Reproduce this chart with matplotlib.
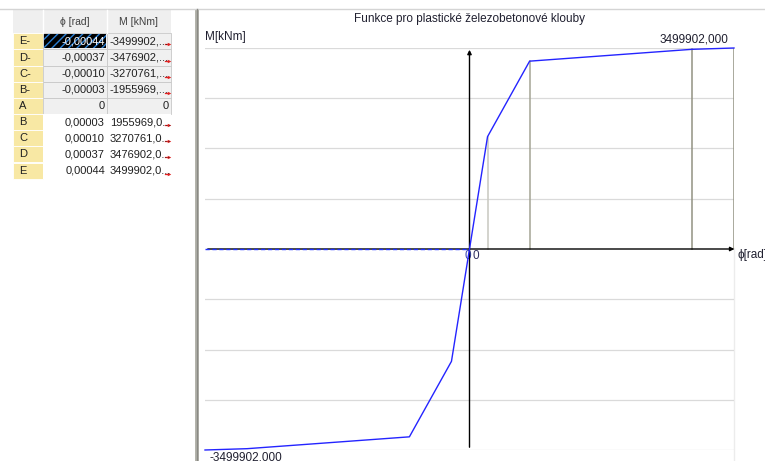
"""Plastic hinge function M(phi) with value table, screenshot style."""

import matplotlib

matplotlib.use("Agg")
import matplotlib.pyplot as plt
from matplotlib.patches import Rectangle

labels = ["E-", "D-", "C-", "B-", "A", "B", "C", "D", "E"]
phi = [-0.00044, -0.00037, -0.00010, -0.00003, 0.0, 0.00003, 0.00010, 0.00037, 0.00044]
moment = [-3499902, -3476902, -3270761, -1955969, 0, 1955969, 3270761, 3476902, 3499902]

title = "Funkce pro plastické železobetonové klouby"
col_headers = ["ϕ [rad]", "M [kNm]"]

W, H = 765, 461
FONT = ["Liberation Sans", "DejaVu Sans"]
plt.rcParams["font.family"] = FONT


def fmt_phi(v):
    if v == 0:
        return "0"
    return f"{v:.5f}".replace(".", ",")


def fmt_m(v):
    if v == 0:
        return "0"
    s = f"{v:.3f}".replace(".", ",")
    return s[:9] + "..."


fig = plt.figure(figsize=(W / 100, H / 100), dpi=100)

# background layer in pixel coordinates (table, frame, loose labels)
bg = fig.add_axes([0, 0, 1, 1], zorder=0)
bg.set_xlim(0, W)
bg.set_ylim(H, 0)
bg.axis("off")

bg.plot([0, W], [9, 9], color="#d4d4d4", lw=1)
bg.add_patch(Rectangle((195.5, 9), 4, H - 9, facecolor="#b4b4ac", edgecolor="none"))
bg.plot([197.5, 197.5], [9, H], color="#8a8a84", lw=1)

# table
x0, x1, x2, x3 = 13, 43, 107, 171
top, head_h, row_h = 10, 23.3, 16.15
bg.add_patch(Rectangle((x0, top), x3 - x0, head_h, facecolor="#efefef", edgecolor="none"))
bg.plot([x1, x1], [top, top + head_h], color="white", lw=1)
bg.plot([x2, x2], [top, top + head_h], color="white", lw=1)
bg.text((x1 + x2) / 2, top + head_h / 2, col_headers[0], ha="center", va="center",
        fontsize=7.5, color="#404040")
bg.text((x2 + x3) / 2, top + head_h / 2, col_headers[1], ha="center", va="center",
        fontsize=7.5, color="#404040")

for i, lab in enumerate(labels):
    y = top + head_h + i * row_h
    cy = y + row_h / 2
    bg.add_patch(Rectangle((x0, y), x1 - x0, row_h, facecolor="#f8e8a4",
                           edgecolor="white", lw=0.6))
    bg.text(x0 + 6, cy, lab, ha="left", va="center", fontsize=8, color="#202020")
    shaded = phi[i] <= 0
    cell_fc = "#f0f0f0" if shaded else "white"
    bg.add_patch(Rectangle((x1, y), x2 - x1, row_h, facecolor=cell_fc,
                           edgecolor="#c8c8c8" if shaded else "none", lw=0.6))
    bg.add_patch(Rectangle((x2, y), x3 - x2, row_h, facecolor=cell_fc,
                           edgecolor="#c8c8c8" if shaded else "none", lw=0.6))
    phi_color = "#202020"
    if i == 0:
        bg.add_patch(Rectangle((x1 + 1, y + 1), x2 - x1 - 2, row_h - 2, facecolor="black",
                               edgecolor="#2a7fd4", hatch="////", lw=0))
        phi_color = "white"
    bg.text(x2 - 2, cy, fmt_phi(phi[i]), ha="right", va="center", fontsize=8,
            color=phi_color)
    if moment[i] == 0:
        bg.text(x3 - 2, cy, "0", ha="right", va="center", fontsize=8, color="#202020")
    else:
        bg.text(x2 + 3, cy, fmt_m(moment[i]), ha="left", va="center", fontsize=8,
                color="#202020")
        # small red edit arrow at the cell's right edge
        bg.plot([165.5, 169], [cy + 3, cy + 3], color="#e02020", lw=0.9)
        bg.plot([169], [cy + 3], marker=">", ms=2.5, color="#e02020", mew=0)

# loose chart labels
bg.text(470, 19, title, ha="center", va="center", fontsize=8.5, color="#202030")
bg.text(205, 37, "M[kNm]", ha="left", va="center", fontsize=8.5, color="#202030")
bg.text(728, 39, f"{max(moment):.3f}".replace(".", ","),
        ha="right", va="center", fontsize=8.5, color="#202030")
bg.text(210, 457, f"{min(moment):.3f}".replace(".", ","), ha="left", va="center",
        fontsize=8.5, color="#202030")
bg.text(738, 255, "ϕ[rad]", ha="left", va="center", fontsize=8.5, color="#202030")
bg.text(468, 256, "0", ha="center", va="center", fontsize=8.5, color="#3848b0")
bg.text(476, 256, "0", ha="center", va="center", fontsize=8.5, color="#303060")
bg.plot([734, 734], [248, H], color="#ececec", lw=1)

# chart
ax = fig.add_axes([205 / W, (H - 450) / H, (734 - 205) / W, (450 - 48) / H], zorder=1)
ax.patch.set_alpha(0)
xmax, ymax = max(phi), max(moment)
ax.set_xlim(-xmax, xmax)
ax.set_ylim(-ymax, ymax)
for s in ax.spines.values():
    s.set_visible(False)
ax.set_xticks([])
ax.set_yticks([])

for k in (-4, -3, -2, -1, 1, 2, 3, 4):
    ax.axhline(k * ymax / 4, color="#dadada", lw=0.9, zorder=1)

line_colors = {"B": "#c8c8c0", "C": "#a4a494", "D": "#929282", "E": "#929282"}
for lab, p, m in zip(labels, phi, moment):
    if lab in line_colors:
        ax.plot([p, p], [0, m], color=line_colors[lab], lw=1.1, zorder=2)

ax.annotate("", xy=(xmax * 1.012, 0), xytext=(-xmax, 0),
            arrowprops=dict(arrowstyle="-|>", color="black", lw=1, mutation_scale=6),
            annotation_clip=False, zorder=3)
ax.annotate("", xy=(0, ymax * 1.005), xytext=(0, -ymax),
            arrowprops=dict(arrowstyle="-|>", color="black", lw=1, mutation_scale=6),
            annotation_clip=False, zorder=3)
ax.plot([-xmax, 0], [0, 0], color="#1f2fff", lw=1, ls=(0, (3, 2)), zorder=4)

ax.plot(phi, moment, color="#2424ff", lw=1, zorder=5, clip_on=False)

fig.savefig("out.png", dpi=100)
